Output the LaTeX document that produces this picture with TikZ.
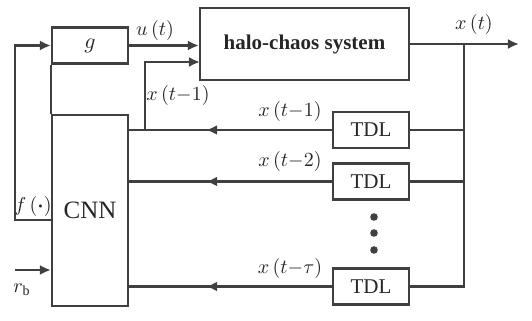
\documentclass[tikz,border=0pt]{standalone}
\usepackage{fontspec}
\setmainfont{Liberation Serif}
\usepackage{amsmath}
\usetikzlibrary{arrows.meta,calc}

\begin{document}
\begin{tikzpicture}[
  x=0.5pt, y=-0.5pt,
  >={Latex[length=5.5pt,width=5pt]},
  line width=1.1pt, draw=black!75,
  every node/.style={font=\fontsize{10.5}{12}\selectfont, text=black!85},
  blk/.style={draw, line width=1.1pt, minimum width=38pt, minimum height=18pt, inner sep=0pt},
  lbl/.style={inner sep=1pt, font=\fontsize{10}{12}\selectfont}
]
\useasboundingbox (0,0) rectangle (532,321);
\node[blk] (g) at (90,45.5) {$g$};
\node[blk, minimum width=104.5pt, minimum height=36pt, font=\bfseries\fontsize{10.5}{12}\selectfont] (halo) at (304.5,44) {halo-chaos system};
\node[blk, minimum height=95.5pt, font=\fontsize{12.5}{14}\selectfont] (cnn) at (90,210.5) {CNN};
\node[blk] (tdl1) at (371,130) {TDL};
\node[blk] (tdl2) at (371,181.5) {TDL};
\node[blk] (tdl3) at (371,286.5) {TDL};
\foreach \y in {217,233,250} \fill[black!75] (374,\y) circle (1.9pt);

\coordinate (xout) at (519,44);
\coordinate (bus) at (464,44);
\coordinate (tap) at (145,130);
\coordinate (hin) at (200,62);
\coordinate (fb) at (15,220);
\coordinate (rb) at (15,270);

\draw[->] (g.east) -- (g.east -| halo.west);
\draw[->] (halo.east) -- (xout);
\draw (bus) -- (bus |- tdl3.east) -- (tdl3.east);
\draw (tdl1.east) -- (tdl1.east -| bus);
\draw (tdl2.east) -- (tdl2.east -| bus);
\foreach \t in {tdl1,tdl2,tdl3} {
  \draw (\t.west) -- (\t.west -| cnn.east);
  \draw[->] (\t.west) -- ($(\t.west)!0.62!(\t.west -| cnn.east)$);
}
\draw[->] (tap) |- (hin);
\draw[->] (cnn.west |- fb) -- (fb) |- (g.west);
\draw (g.south west) -- (cnn.north west);
\draw[->] (rb) -- (cnn.west |- rb);

\node[lbl] (lu) at (155,30) {$u\,(t)$};
\node[lbl] (lx) at (474,25) {$x\,(t)$};
\node[lbl] (lx0) at (178,95) {$x\,(t{-}1)$};
\node[lbl] (lx1) at (290,112) {$x\,(t{-}1)$};
\node[lbl] (lx2) at (290,162) {$x\,(t{-}2)$};
\node[lbl] (lx3) at (290,268) {$x\,(t{-}\tau)$};
\node[lbl] (lf) at (33,207) {$f\,(\boldsymbol{\cdot})$};
\node[lbl] (lr) at (22,290) {$r_{\mathrm{b}}$};
\end{tikzpicture}
\end{document}
